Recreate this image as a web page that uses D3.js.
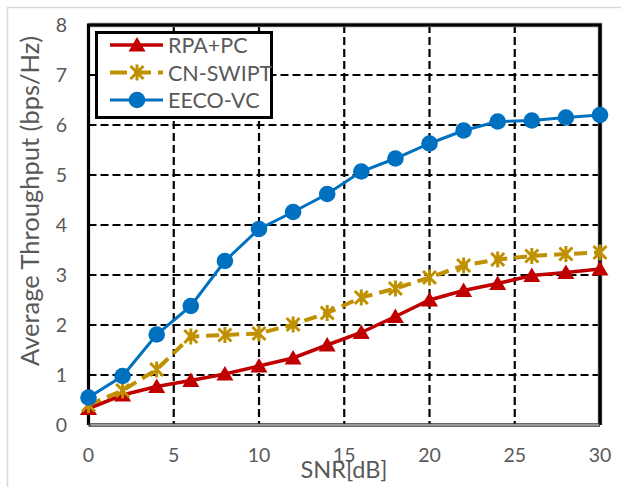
<!DOCTYPE html>
<html>
<head>
<meta charset="utf-8">
<script src="https://cdn.jsdelivr.net/npm/d3@7"></script>
<style>
  body { margin: 0; background: #fff; }
  svg { display: block; font-family: Lato, "Open Sans", sans-serif; }
</style>
</head>
<body>
<svg width="621" height="487"></svg>
<script>
var snr = [0, 2, 4, 6, 8, 10, 12, 14, 16, 18, 20, 22, 24, 26, 28, 30];
var rpaPc = [0.33, 0.6, 0.77, 0.89, 1.02, 1.18, 1.34, 1.6, 1.85, 2.17, 2.5, 2.69, 2.83, 2.99, 3.05, 3.12];
var cnSwipt = [0.4, 0.69, 1.11, 1.77, 1.8, 1.83, 2.01, 2.24, 2.55, 2.73, 2.95, 3.19, 3.31, 3.38, 3.42, 3.45];
var eecoVc = [0.55, 0.98, 1.81, 2.38, 3.28, 3.92, 4.26, 4.62, 5.07, 5.33, 5.63, 5.89, 6.07, 6.09, 6.15, 6.2];
var xTicks = [0, 5, 10, 15, 20, 25, 30];
var yTicks = [0, 1, 2, 3, 4, 5, 6, 7, 8];
var seriesNames = ["RPA+PC", "CN-SWIPT", "EECO-VC"];

var svg = d3.select("svg");
var textCol = "#595959";

var x = d3.scaleLinear().domain([0, 30]).range([88.5, 600]);
var y = d3.scaleLinear().domain([0, 8]).range([425, 25]);

// outer chart border (only left/top visible)
svg.append("rect")
  .attr("x", 7.5).attr("y", 7.5)
  .attr("width", 640).attr("height", 500)
  .attr("fill", "none")
  .attr("stroke", "#d9d9d9")
  .attr("stroke-width", 1.5);

// grid
svg.selectAll("line.vgrid")
  .data(xTicks.slice(1, -1))
  .enter().append("line")
  .attr("x1", function(d) { return x(d); })
  .attr("x2", function(d) { return x(d); })
  .attr("y1", y(8)).attr("y2", y(0))
  .attr("stroke", "#000").attr("stroke-width", 2.2)
  .attr("stroke-dasharray", "8,4");

svg.selectAll("line.hgrid")
  .data(yTicks.slice(1, -1))
  .enter().append("line")
  .attr("y1", function(d) { return y(d); })
  .attr("y2", function(d) { return y(d); })
  .attr("x1", x(0)).attr("x2", x(30))
  .attr("stroke", "#000").attr("stroke-width", 2.2)
  .attr("stroke-dasharray", "8,4");

// plot frame
svg.append("path")
  .attr("d", "M" + x(0) + "," + y(8) + "H" + x(30) + "V" + y(0))
  .attr("fill", "none").attr("stroke", "#888").attr("stroke-width", 4.5);
svg.append("path")
  .attr("d", "M" + x(0) + "," + y(0) + "V" + y(8) + "H" + x(30) + "V" + y(0))
  .attr("fill", "none").attr("stroke", "#000").attr("stroke-width", 3.2);
svg.append("line")
  .attr("x1", x(0)).attr("x2", x(30)).attr("y1", y(0)).attr("y2", y(0))
  .attr("stroke", "#333").attr("stroke-width", 3.5);
svg.append("line")
  .attr("x1", x(0) + 2).attr("x2", x(30) - 1).attr("y1", y(0)).attr("y2", y(0))
  .attr("stroke", "#bbb").attr("stroke-width", 1.4);

// tick labels
svg.selectAll("text.xt")
  .data(xTicks)
  .enter().append("text")
  .attr("x", function(d) { return x(d); })
  .attr("y", 462)
  .attr("text-anchor", "middle")
  .attr("font-size", 19.5)
  .attr("fill", textCol)
  .text(function(d) { return d; });

svg.selectAll("text.yt")
  .data(yTicks)
  .enter().append("text")
  .attr("x", 67)
  .attr("y", function(d) { return y(d) + 7; })
  .attr("text-anchor", "end")
  .attr("font-size", 19.5)
  .attr("fill", textCol)
  .text(function(d) { return d; });

// axis titles
svg.append("text")
  .attr("x", 344).attr("y", 478)
  .attr("text-anchor", "middle")
  .attr("font-size", 23.5)
  .attr("fill", textCol)
  .text("SNR[dB]");

svg.append("text")
  .attr("transform", "translate(39,201) rotate(-90)")
  .attr("text-anchor", "middle")
  .attr("font-size", 25.5)
  .attr("fill", textCol)
  .text("Average Throughput (bps/Hz)");

// series
var styles = [
  { color: "#C00000", width: 3.5, dash: null, marker: "triangle" },
  { color: "#BF9000", width: 4, dash: "13,7", marker: "star" },
  { color: "#0070C0", width: 3, dash: null, marker: "circle" }
];
var allData = [rpaPc, cnSwipt, eecoVc];

var line = d3.line()
  .x(function(d, i) { return x(snr[i]); })
  .y(function(d) { return y(d); });

function drawMarker(g, kind, color) {
  if (kind == "circle") {
    g.append("circle").attr("r", 8.3).attr("fill", color);
  } else if (kind == "triangle") {
    g.append("path").attr("d", "M0,-8L8.5,6.5L-8.5,6.5Z").attr("fill", color);
  } else {
    g.append("path")
      .attr("d", "M-6.5,-6.5L6.5,6.5M-6.5,6.5L6.5,-6.5M0,-8V8")
      .attr("stroke", color).attr("stroke-width", 3).attr("fill", "none");
  }
}

allData.forEach(function(vals, k) {
  var st = styles[k];
  svg.append("path")
    .datum(vals)
    .attr("d", line)
    .attr("fill", "none")
    .attr("stroke", st.color)
    .attr("stroke-width", st.width)
    .attr("stroke-dasharray", st.dash);
  vals.forEach(function(v, i) {
    var g = svg.append("g").attr("transform", "translate(" + x(snr[i]) + "," + y(v) + ")");
    drawMarker(g, st.marker, st.color);
  });
});

// legend
var leg = svg.append("g");
leg.append("rect")
  .attr("x", 96.5).attr("y", 32.5)
  .attr("width", 175).attr("height", 85)
  .attr("fill", "#fff")
  .attr("stroke", "#000").attr("stroke-width", 3);

seriesNames.forEach(function(name, k) {
  var st = styles[k];
  var cy = 45 + k * 27.5;
  leg.append("line")
    .attr("x1", 110).attr("x2", 163).attr("y1", cy).attr("y2", cy)
    .attr("stroke", st.color).attr("stroke-width", st.width)
    .attr("stroke-dasharray", st.dash ? "17,7" : null);
  var g = leg.append("g").attr("transform", "translate(137," + cy + ")");
  drawMarker(g, st.marker, st.color);
  leg.append("text")
    .attr("x", 168).attr("y", cy + 8)
    .attr("font-size", 21.5)
    .attr("fill", textCol)
    .text(name);
});
</script>
</body>
</html>
